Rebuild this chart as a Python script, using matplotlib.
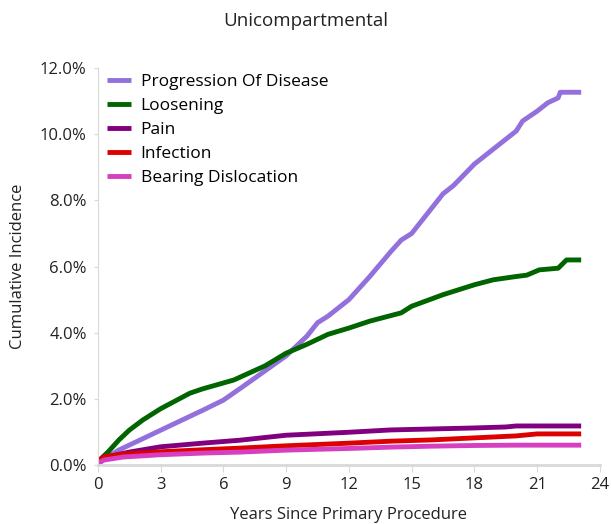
import matplotlib
matplotlib.use("Agg")
import matplotlib.pyplot as plt
from matplotlib.ticker import FuncFormatter

title = "Unicompartmental"
x_label = "Years Since Primary Procedure"
y_label = "Cumulative Incidence"

prog_x = [0, 0.5, 1, 2, 3, 4, 5, 6, 7, 8, 9, 10, 10.5, 11, 12, 13, 14, 14.5, 15, 16, 16.5, 17, 18, 19, 20, 20.3, 21, 21.5, 22, 22.1, 23.1]
prog_y = [0.1, 0.25, 0.45, 0.75, 1.05, 1.35, 1.65, 1.96, 2.4, 2.85, 3.3, 3.9, 4.3, 4.5, 5.0, 5.7, 6.45, 6.8, 7.0, 7.8, 8.2, 8.45, 9.1, 9.6, 10.1, 10.4, 10.7, 10.95, 11.1, 11.27, 11.27]

loos_x = [0, 0.5, 1, 1.5, 2.15, 3, 4.4, 5, 6.5, 8, 9, 10, 11, 12, 13, 14.5, 15, 16.5, 18, 18.9, 20, 20.5, 21.1, 22, 22.4, 23.1]
loos_y = [0.1, 0.4, 0.75, 1.05, 1.36, 1.7, 2.17, 2.3, 2.57, 3.0, 3.38, 3.65, 3.95, 4.14, 4.35, 4.6, 4.8, 5.15, 5.45, 5.6, 5.7, 5.74, 5.9, 5.95, 6.2, 6.2]

pain_x = [0, 0.5, 1.5, 3, 5, 6.8, 9, 12, 14, 16, 18, 19.5, 20, 23.1]
pain_y = [0.05, 0.25, 0.39, 0.55, 0.66, 0.75, 0.9, 0.99, 1.06, 1.09, 1.12, 1.15, 1.18, 1.18]

inf_x = [0, 0.3, 1.2, 3, 5, 6.8, 9, 12, 14, 16, 18, 20, 21, 23.1]
inf_y = [0.12, 0.25, 0.33, 0.4, 0.46, 0.51, 0.58, 0.66, 0.72, 0.76, 0.82, 0.88, 0.94, 0.94]

bear_x = [0, 0.3, 1.2, 3, 5, 6.8, 9, 12, 14, 16, 18, 20, 23.1]
bear_y = [0.05, 0.15, 0.24, 0.31, 0.36, 0.39, 0.45, 0.5, 0.54, 0.57, 0.59, 0.6, 0.6]

series = [
    ("Progression Of Disease", prog_x, prog_y, "#9370DB"),
    ("Loosening", loos_x, loos_y, "#006400"),
    ("Pain", pain_x, pain_y, "#800080"),
    ("Infection", inf_x, inf_y, "#DD0000"),
    ("Bearing Dislocation", bear_x, bear_y, "#D63FC0"),
]

x_ticks = [0, 3, 6, 9, 12, 15, 18, 21, 24]
y_ticks = [0, 2, 4, 6, 8, 10, 12]

plt.rcParams['font.family'] = ['Open Sans', 'DejaVu Sans']

fig = plt.figure(figsize=(6.11, 5.24), dpi=100)
ax = fig.add_axes([0.160, 0.1126, 0.822, 0.7574])

for name, xs, ys, c in series:
    ax.plot(xs, ys, color=c, lw=3.5, label=name, solid_capstyle='butt')

ax.set_xlim(0, 24)
ax.set_ylim(0, 12)
ax.set_xticks(x_ticks)
ax.set_yticks(y_ticks)
ax.yaxis.set_major_formatter(FuncFormatter(lambda v, p: f"{v:.1f}%"))
for s in ['top', 'right']:
    ax.spines[s].set_visible(False)
ax.spines['left'].set_color('#d9d9d9')
ax.spines['bottom'].set_color('#d9d9d9')
ax.spines['bottom'].set_linewidth(2)
ax.tick_params(axis='y', colors='#d9d9d9', labelcolor='#222222', labelsize=12, length=3, pad=5)
ax.tick_params(axis='x', colors='#d9d9d9', labelcolor='#222222', labelsize=12, length=5, pad=4)

fig.text(0.5, 1 - 21/524, title, fontsize=13.5, ha='center', va='center', color='#222222')
fig.text(0.5 * (98 + 600) / 611, 1 - 515/524, x_label, fontsize=12, ha='center', va='center', color='#222222')
fig.text(18/611, 0.5 * ((524-465) + (524-68)) / 524, y_label, fontsize=12, ha='center', va='center',
         rotation=90, color='#222222')

leg = ax.legend(loc='upper left', bbox_to_anchor=(9/502, 0.985), frameon=False, fontsize=12.5,
                handlelength=1.4, handletextpad=0.55, labelspacing=0.45, borderaxespad=0, borderpad=0)

fig.savefig("out.png", dpi=100)
